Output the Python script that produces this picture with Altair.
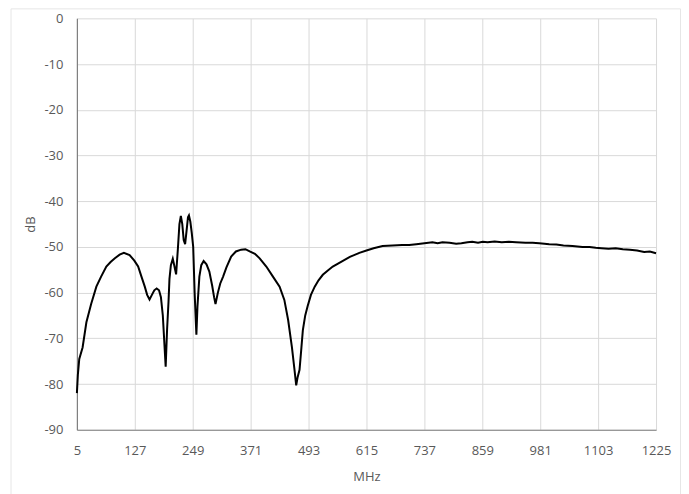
import altair as alt
import pandas as pd

freq_mhz = [5, 7, 10, 17, 25, 35, 46, 56, 67, 76, 85, 95, 104, 116, 126, 134, 141, 148,
            153, 158, 163, 168, 173, 178, 182, 186, 192, 195, 198, 200, 203, 207, 210,
            214, 218, 221, 224, 227, 230, 233, 236, 239, 241, 244, 247, 250, 253, 256.7,
            259, 263, 267, 272, 278, 284, 290, 294, 297, 302, 307, 313, 320, 330, 340,
            351, 360, 369, 380, 390, 404, 418, 432, 442, 450, 458, 463, 467, 470, 474,
            478, 481, 486, 491, 498, 506, 514, 523, 533, 544, 556, 568, 580, 600, 615,
            630, 649, 670, 690, 705, 720, 737, 754, 765, 775, 790, 804, 815, 828, 838,
            850, 860, 870, 885, 900, 915, 930, 950, 965, 979, 990, 1000, 1015, 1030,
            1049, 1070, 1085, 1098, 1110, 1125, 1140, 1155, 1170, 1185, 1200, 1212, 1225]

level_db = [-82, -78, -74.5, -72, -66.5, -62.5, -58.7, -56.5, -54.3, -53.3, -52.5, -51.7,
            -51.3, -51.8, -53, -54.3, -56.5, -58.7, -60.5, -61.5, -60.5, -59.5, -59.1,
            -59.5, -61, -65, -76.2, -68, -62, -57, -54, -52.6, -54, -56, -50, -45, -43.2,
            -45, -48.5, -49.4, -46.5, -43.5, -43.1, -44.5, -47, -50, -60, -69.2, -63,
            -56.5, -54, -53.1, -53.8, -55.4, -58.5, -61, -62.5, -60, -58, -56.5, -54.5,
            -52.1, -51, -50.6, -50.5, -51, -51.5, -52.5, -54.3, -56.5, -58.7, -61.6, -66,
            -72, -76.5, -80.3, -78.5, -76.9, -72, -68.2, -65, -63, -60.5, -58.7, -57.3,
            -56.1, -55.2, -54.3, -53.6, -52.9, -52.2, -51.3, -50.8, -50.3, -49.8, -49.7,
            -49.6, -49.6, -49.4, -49.2, -49.0, -49.2, -49.0, -49.1, -49.3, -49.2, -49.0,
            -48.9, -49.1, -48.9, -49.0, -48.8, -49.0, -48.9, -49.0, -49.1, -49.1, -49.2,
            -49.3, -49.4, -49.5, -49.7, -49.8, -50.0, -50.0, -50.2, -50.3, -50.4, -50.3,
            -50.5, -50.6, -50.8, -51.1, -51.0, -51.4]

x_ticks = [5, 127, 249, 371, 493, 615, 737, 859, 981, 1103, 1225]
y_ticks = [0, -10, -20, -30, -40, -50, -60, -70, -80, -90]

df = pd.DataFrame({"MHz": freq_mhz, "dB": level_db})

FONT = "Open Sans, sans-serif"

frame = alt.Chart(pd.DataFrame({"k": [0]})).mark_rect(
    fill=None, stroke="#e6e6e6", strokeWidth=1, clip=False
).encode(
    x=alt.value(-66), x2=alt.value(604.5), y=alt.value(-9.5), y2=alt.value(490)
)

line = alt.Chart(df).mark_line(color="#000000", strokeWidth=2, interpolate="linear").encode(
    x=alt.X("MHz:Q", scale=alt.Scale(domain=[5, 1225], nice=False, zero=False),
            axis=alt.Axis(values=x_ticks, title="MHz", tickSize=0, labelPadding=15,
                          titlePadding=13, domainColor="#7f7f7f", gridColor="#d9d9d9",
                          labelFlush=False, labelExpr="datum.value + ''")),
    y=alt.Y("dB:Q", scale=alt.Scale(domain=[-90, 0], nice=False),
            axis=alt.Axis(values=y_ticks, title="dB", tickSize=0, labelPadding=14,
                          titlePadding=6, domainColor="#7f7f7f", gridColor="#d9d9d9",
                          labelExpr="datum.value + ''")),
)

chart = alt.layer(frame, line).properties(
    width=580, height=412,
    autosize=alt.AutoSizeParams(type="none"),
    padding={"left": 69, "top": 10, "right": 25, "bottom": 66},
    background="white",
).configure_view(stroke=None).configure_axis(
    labelFont=FONT, titleFont=FONT, labelFontSize=13, titleFontSize=13,
    labelColor="#595959", titleColor="#595959", titleFontWeight="normal",
    gridWidth=1, domainWidth=1.2,
)

chart.save("out.html", embed_options={"renderer": "svg", "actions": False})
